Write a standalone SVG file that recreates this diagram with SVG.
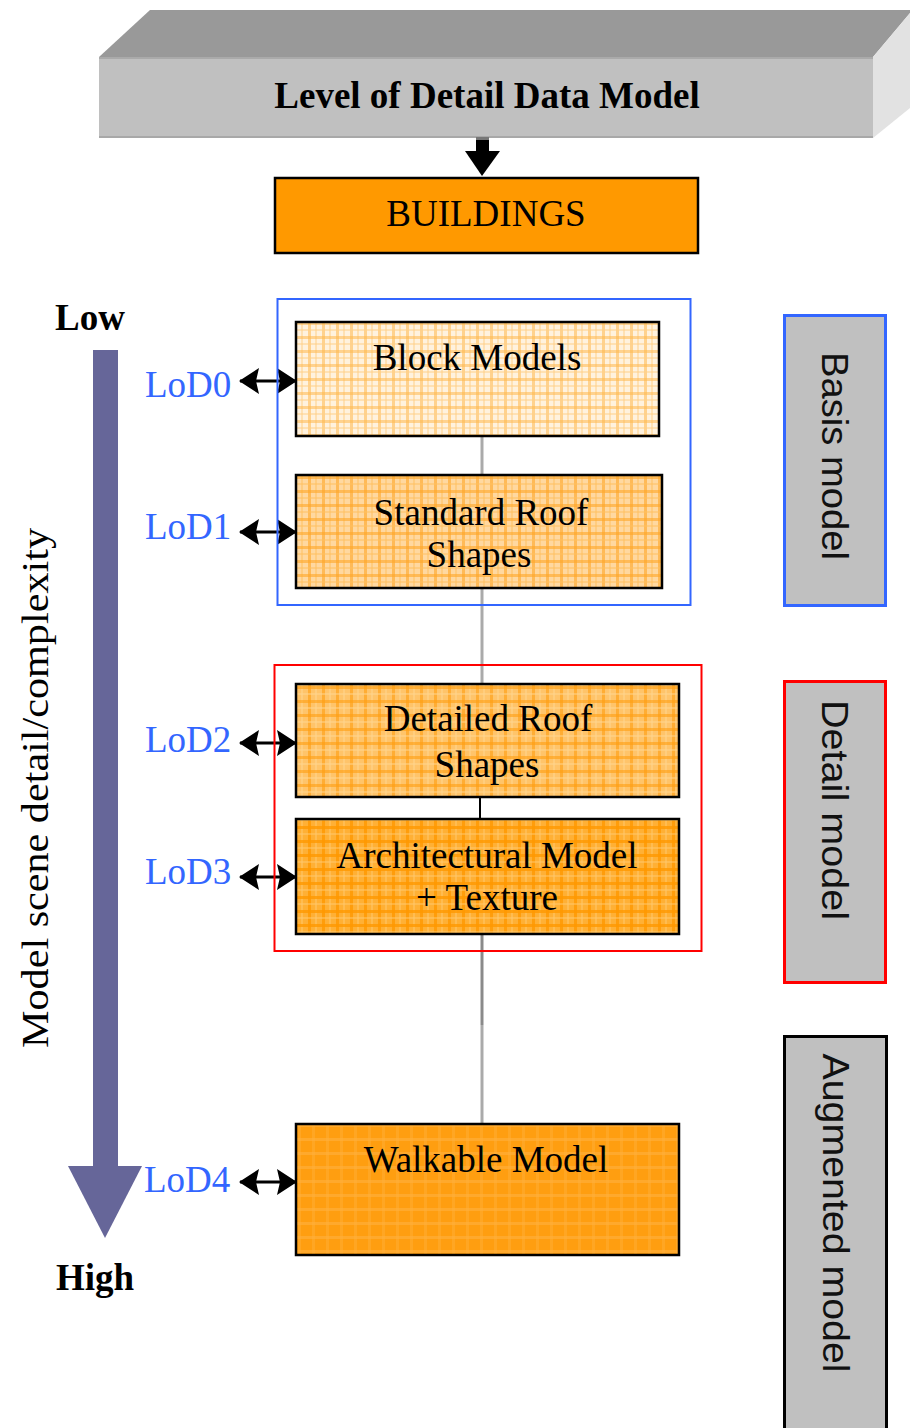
<svg xmlns="http://www.w3.org/2000/svg" width="910" height="1428" viewBox="0 0 910 1428">
<style>
.serif{font-family:"Liberation Serif","Times New Roman",serif;font-size:37px;fill:#000}
.bold{font-weight:bold}
.lod{font-family:"Liberation Serif","Times New Roman",serif;font-size:37px;fill:#3366ff}
.sans{font-family:"Liberation Sans",Arial,sans-serif;font-size:37px;fill:#111}
.node{stroke:#000;stroke-width:2.5}
.dbl{stroke:#000;stroke-width:3;marker-start:url(#ah);marker-end:url(#ah)}
.conn{stroke:#aaaaaa;stroke-width:3;fill:none}
</style>
<defs>
<marker id="ah" markerUnits="userSpaceOnUse" markerWidth="20" markerHeight="26" refX="19" refY="13" orient="auto-start-reverse" viewBox="0 0 20 26">
<path d="M0,0 L20,13 L0,26 L3,13 z" fill="#000"/>
</marker>
<pattern id="p0" width="14" height="14" patternUnits="userSpaceOnUse">
<rect width="14" height="14" fill="#fff2de"/>
<rect x="0" y="0" width="3" height="14" fill="#ffb84d" opacity="0.55"/>
<rect x="7" y="0" width="2" height="14" fill="#ffcf88" opacity="0.5"/>
<rect x="0" y="0" width="14" height="3" fill="#ffb84d" opacity="0.55"/>
<rect x="0" y="7" width="14" height="2" fill="#ffcf88" opacity="0.5"/>
</pattern>
<pattern id="p1" width="14" height="14" patternUnits="userSpaceOnUse">
<rect width="14" height="14" fill="#ffd8a0"/>
<rect x="0" y="0" width="3" height="14" fill="#ffa726" opacity="0.6"/>
<rect x="7" y="0" width="2" height="14" fill="#ffbf60" opacity="0.5"/>
<rect x="0" y="0" width="14" height="3" fill="#ffa726" opacity="0.6"/>
<rect x="0" y="7" width="14" height="2" fill="#ffbf60" opacity="0.5"/>
</pattern>
<pattern id="p2" width="14" height="14" patternUnits="userSpaceOnUse">
<rect width="14" height="14" fill="#ffc46a"/>
<rect x="0" y="0" width="3" height="14" fill="#ff9f10" opacity="0.6"/>
<rect x="7" y="0" width="2" height="14" fill="#ffd68f" opacity="0.5"/>
<rect x="0" y="0" width="14" height="3" fill="#ff9f10" opacity="0.6"/>
<rect x="0" y="7" width="14" height="2" fill="#ffd68f" opacity="0.5"/>
</pattern>
<pattern id="p3" width="14" height="14" patternUnits="userSpaceOnUse">
<rect width="14" height="14" fill="#ffb035"/>
<rect x="0" y="0" width="3" height="14" fill="#ff9900" opacity="0.8"/>
<rect x="7" y="0" width="2" height="14" fill="#ffc86e" opacity="0.5"/>
<rect x="0" y="0" width="14" height="3" fill="#ff9900" opacity="0.8"/>
<rect x="0" y="7" width="14" height="2" fill="#ffc86e" opacity="0.5"/>
</pattern>
<pattern id="p4" width="14" height="14" patternUnits="userSpaceOnUse">
<rect width="14" height="14" fill="#ff9e10"/>
<rect x="0" y="4" width="14" height="3" fill="#ffb13f" opacity="0.6"/>
<rect x="4" y="0" width="3" height="14" fill="#ffb13f" opacity="0.4"/>
</pattern>
</defs>

<g id="header">
<polygon points="99,57 150,10 910,10 910,13 873,57" fill="#999999"/>
<polygon points="873,57 910,13 910,108 873,138" fill="#e2e2e2"/>
<rect x="99" y="57" width="774" height="81" fill="#c0c0c0"/>
<line x1="99" y1="58" x2="873" y2="58" stroke="#aaaaaa" stroke-width="2"/>
<line x1="99" y1="137" x2="873" y2="137" stroke="#a8a8a8" stroke-width="2"/>
<text class="serif bold" x="487" y="108" text-anchor="middle">Level of Detail Data Model</text>
</g>

<g id="buildings">
<rect class="node" x="275" y="178" width="423" height="75" fill="#ff9900"/>
<text class="serif" x="486" y="226" text-anchor="middle">BUILDINGS</text>
</g>

<g id="axis">
<rect x="93" y="350" width="25" height="817" fill="#666699"/>
<polygon points="68,1166 142,1166 105,1238" fill="#666699"/>
<text class="serif bold" x="55" y="330">Low</text>
<text class="serif bold" x="56" y="1290">High</text>
<text class="serif" transform="translate(48,788) rotate(-90)" text-anchor="middle" textLength="520" lengthAdjust="spacingAndGlyphs">Model scene detail/complexity</text>
</g>

<g id="connectors">
<rect x="476" y="137" width="13" height="16" fill="#000"/>
<rect x="476" y="137" width="13" height="3" fill="#777"/>
<polygon points="465,151 500,151 482,176" fill="#000"/>
<line class="conn" x1="482" y1="437" x2="482" y2="684"/>
<line x1="480" y1="797" x2="480" y2="820" stroke="#000" stroke-width="2"/>
<line x1="482" y1="934" x2="482" y2="1025" stroke="#8a8a8a" stroke-width="3"/>
<line class="conn" x1="482" y1="1025" x2="482" y2="1124"/>
<line class="dbl" x1="240" y1="381" x2="296" y2="381"/>
<line class="dbl" x1="240" y1="532" x2="296" y2="532"/>
<line class="dbl" x1="240" y1="743" x2="296" y2="743"/>
<line class="dbl" x1="240" y1="877" x2="296" y2="877"/>
<line class="dbl" x1="240" y1="1182" x2="296" y2="1182"/>
</g>

<g id="basis-group">
<rect x="277.5" y="299" width="413" height="306" fill="none" stroke="#3366ff" stroke-width="2"/>
</g>
<g id="detail-group">
<rect x="274.5" y="665" width="427" height="286" fill="none" stroke="#ff0000" stroke-width="2"/>
</g>

<g id="lod-labels">
<text class="lod" x="145" y="397">LoD0</text>
<text class="lod" x="145" y="539">LoD1</text>
<text class="lod" x="145" y="752">LoD2</text>
<text class="lod" x="145" y="884">LoD3</text>
<text class="lod" x="144" y="1192">LoD4</text>
</g>

<g id="block-models">
<rect class="node" x="296" y="322" width="363" height="114" fill="url(#p0)"/>
<text class="serif" x="477" y="370" text-anchor="middle">Block Models</text>
</g>
<g id="standard-roof">
<rect class="node" x="296" y="475" width="366" height="113" fill="url(#p1)"/>
<text class="serif" x="481" y="525" text-anchor="middle">Standard Roof</text>
<text class="serif" x="479" y="567" text-anchor="middle">Shapes</text>
</g>
<g id="detailed-roof">
<rect class="node" x="296" y="684" width="383" height="113" fill="url(#p2)"/>
<text class="serif" x="488" y="731" text-anchor="middle">Detailed Roof</text>
<text class="serif" x="487" y="777" text-anchor="middle">Shapes</text>
</g>
<g id="architectural">
<rect class="node" x="296" y="819" width="383" height="115" fill="url(#p3)"/>
<text class="serif" x="487" y="868" text-anchor="middle">Architectural Model</text>
<text class="serif" x="487" y="910" text-anchor="middle">+ Texture</text>
</g>
<g id="walkable">
<rect class="node" x="296" y="1124" width="383" height="131" fill="url(#p4)"/>
<text class="serif" x="486" y="1172" text-anchor="middle">Walkable Model</text>
</g>

<g id="basis-model">
<rect x="784.5" y="315.5" width="101" height="290" fill="#c0c0c0" stroke="#3366ff" stroke-width="3"/>
<text class="sans" transform="translate(822,456) rotate(90)" text-anchor="middle" textLength="208" lengthAdjust="spacingAndGlyphs">Basis model</text>
</g>
<g id="detail-model">
<rect x="784.5" y="681.5" width="101" height="301" fill="#c0c0c0" stroke="#ff0000" stroke-width="3"/>
<text class="sans" transform="translate(822,810) rotate(90)" text-anchor="middle" textLength="220" lengthAdjust="spacingAndGlyphs">Detail model</text>
</g>
<g id="augmented-model">
<rect x="784.5" y="1036.5" width="102" height="400" fill="#c0c0c0" stroke="#000" stroke-width="3"/>
<text class="sans" transform="translate(823,1213) rotate(90)" text-anchor="middle" textLength="319" lengthAdjust="spacingAndGlyphs">Augmented model</text>
</g>
</svg>
